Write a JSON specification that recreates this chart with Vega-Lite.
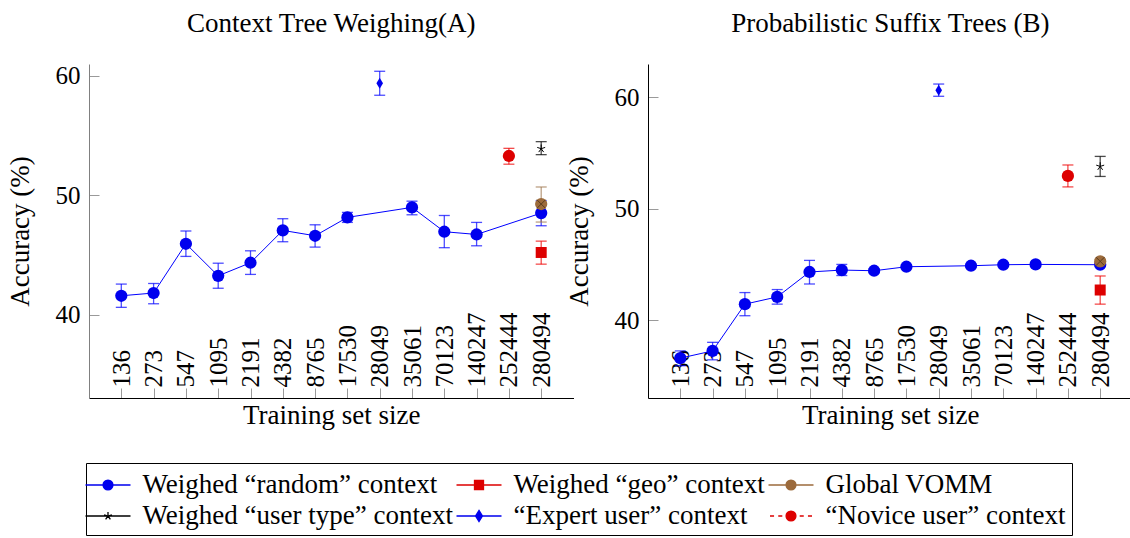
{
  "$schema": "https://vega.github.io/schema/vega-lite/v6.json",
  "padding": {"left": 6, "top": 9, "right": 0, "bottom": 0},
  "bounds": "flush",
  "spacing": 74,
  "config": {
    "font": "Liberation Serif",
    "view": {"stroke": null},
    "title": {"font": "Liberation Serif", "fontSize": 27, "fontWeight": "normal", "color": "black"},
    "axis": {"labelFont": "Liberation Serif", "titleFont": "Liberation Serif", "labelColor": "black", "titleColor": "black", "grid": false}
  },
  "datasets": {
    "d": [
      {"p": "A", "s": "136", "k": "random", "v": 41.57, "lo": 40.6, "hi": 42.55},
      {"p": "A", "s": "273", "k": "random", "v": 41.8, "lo": 40.9, "hi": 42.6},
      {"p": "A", "s": "547", "k": "random", "v": 45.93, "lo": 44.87, "hi": 47.0},
      {"p": "A", "s": "1095", "k": "random", "v": 43.24, "lo": 42.2, "hi": 44.3},
      {"p": "A", "s": "2191", "k": "random", "v": 44.34, "lo": 43.36, "hi": 45.34},
      {"p": "A", "s": "4382", "k": "random", "v": 47.05, "lo": 46.1, "hi": 48.03},
      {"p": "A", "s": "8765", "k": "random", "v": 46.6, "lo": 45.65, "hi": 47.52},
      {"p": "A", "s": "17530", "k": "random", "v": 48.14, "lo": 47.72, "hi": 48.56},
      {"p": "A", "s": "35061", "k": "random", "v": 48.98, "lo": 48.36, "hi": 49.5},
      {"p": "A", "s": "70123", "k": "random", "v": 46.94, "lo": 45.6, "hi": 48.3},
      {"p": "A", "s": "140247", "k": "random", "v": 46.71, "lo": 45.76, "hi": 47.72},
      {"p": "A", "s": "280494", "k": "random", "v": 48.5, "lo": 47.44, "hi": 49.54},
      {"p": "A", "s": "280494", "k": "geo", "v": 45.2, "lo": 44.22, "hi": 46.15},
      {"p": "A", "s": "280494", "k": "vomm", "v": 49.26, "lo": 47.75, "hi": 50.69},
      {"p": "A", "s": "280494", "k": "usertype", "v": 53.9, "lo": 53.4, "hi": 54.49},
      {"p": "A", "s": "28049", "k": "expert", "v": 59.38, "lo": 58.38, "hi": 60.39},
      {"p": "A", "s": "252444", "k": "novice", "v": 53.29, "lo": 52.6, "hi": 53.93},
      {"p": "B", "s": "136", "k": "random", "v": 36.58, "lo": 35.9, "hi": 37.23},
      {"p": "B", "s": "273", "k": "random", "v": 37.23, "lo": 36.43, "hi": 38.0},
      {"p": "B", "s": "547", "k": "random", "v": 41.43, "lo": 40.39, "hi": 42.47},
      {"p": "B", "s": "1095", "k": "random", "v": 42.08, "lo": 41.43, "hi": 42.74},
      {"p": "B", "s": "2191", "k": "random", "v": 44.32, "lo": 43.24, "hi": 45.36},
      {"p": "B", "s": "4382", "k": "random", "v": 44.49, "lo": 44.0, "hi": 45.0},
      {"p": "B", "s": "8765", "k": "random", "v": 44.43, "lo": 44.25, "hi": 44.6},
      {"p": "B", "s": "17530", "k": "random", "v": 44.79, "lo": 44.65, "hi": 44.93},
      {"p": "B", "s": "35061", "k": "random", "v": 44.88, "lo": 44.75, "hi": 45.0},
      {"p": "B", "s": "70123", "k": "random", "v": 44.97, "lo": 44.85, "hi": 45.1},
      {"p": "B", "s": "140247", "k": "random", "v": 45.0, "lo": 44.88, "hi": 45.12},
      {"p": "B", "s": "280494", "k": "random", "v": 44.97, "lo": 44.85, "hi": 45.1},
      {"p": "B", "s": "280494", "k": "geo", "v": 42.7, "lo": 41.43, "hi": 43.96},
      {"p": "B", "s": "280494", "k": "vomm", "v": 45.27, "lo": 45.1, "hi": 45.45},
      {"p": "B", "s": "280494", "k": "usertype", "v": 53.8, "lo": 52.9, "hi": 54.7},
      {"p": "B", "s": "28049", "k": "expert", "v": 60.65, "lo": 60.1, "hi": 61.2},
      {"p": "B", "s": "252444", "k": "novice", "v": 52.95, "lo": 51.96, "hi": 53.93}
    ]
  },
  "hconcat": [
    {
      "width": 484.5,
      "height": 334,
      "title": {"text": "Context Tree Weighing(A)", "frame": "group", "offset": 26},
      "data": {"name": "d"},
      "transform": [{"filter": "datum.p == 'A'"}],
      "encoding": {
        "x": {
          "field": "s", "type": "ordinal", "title": "Training set size",
          "scale": {"type": "point", "padding": 1, "domain": ["136", "273", "547", "1095", "2191", "4382", "8765", "17530", "28049", "35061", "70123", "140247", "252444", "280494"]},
          "axis": {"labelAngle": 270, "labelAlign": "left", "labelBaseline": "middle", "labelFontSize": 25, "labelPadding": -1, "tickSize": -10, "tickColor": "#9a9a9a", "domainColor": "black", "labelOverlap": false, "labelBound": false, "labelFlush": false, "titleFontSize": 27, "titleFontWeight": "normal", "titlePadding": 4}
        }
      },
      "layer": [
        {
          "mark": {"type": "rule", "strokeWidth": 1.3, "opacity": 0.7},
          "encoding": {
            "y": {"field": "lo", "type": "quantitative", "title": "Accuracy (%)", "scale": {"domain": [33, 61], "nice": false, "zero": false}, "axis": {"values": [40, 50, 60], "tickSize": -10, "tickColor": "#9a9a9a", "domainColor": "#808080", "labelFontSize": 25, "labelPadding": 19, "titleFontSize": 27, "titleFontWeight": "normal", "titlePadding": 21}},
            "y2": {"field": "hi"},
            "color": {"condition": [{"test": "datum.k == 'geo' || datum.k == 'novice'", "value": "#ee0000"}, {"test": "datum.k == 'vomm'", "value": "#a07850"}, {"test": "datum.k == 'usertype'", "value": "#000000"}], "value": "#0000ff"}
          }
        },
        {
          "mark": {"type": "tick", "thickness": 1.3, "size": 11, "opacity": 0.7, "orient": "horizontal"},
          "encoding": {
            "y": {"field": "lo", "type": "quantitative", "title": "Accuracy (%)"},
            "color": {"condition": [{"test": "datum.k == 'geo' || datum.k == 'novice'", "value": "#ee0000"}, {"test": "datum.k == 'vomm'", "value": "#a07850"}, {"test": "datum.k == 'usertype'", "value": "#000000"}], "value": "#0000ff"}
          }
        },
        {
          "mark": {"type": "tick", "thickness": 1.3, "size": 11, "opacity": 0.7, "orient": "horizontal"},
          "encoding": {
            "y": {"field": "hi", "type": "quantitative", "title": "Accuracy (%)"},
            "color": {"condition": [{"test": "datum.k == 'geo' || datum.k == 'novice'", "value": "#ee0000"}, {"test": "datum.k == 'vomm'", "value": "#a07850"}, {"test": "datum.k == 'usertype'", "value": "#000000"}], "value": "#0000ff"}
          }
        },
        {
          "transform": [{"filter": "datum.k == 'random'"}],
          "mark": {"type": "line", "color": "#0000ff", "strokeWidth": 1},
          "encoding": {"y": {"field": "v", "type": "quantitative", "title": "Accuracy (%)"}}
        },
        {
          "transform": [{"filter": "datum.k == 'random' || datum.k == 'vomm' || datum.k == 'novice'"}],
          "mark": {"type": "point", "filled": true, "opacity": 1, "size": 150, "shape": "circle"},
          "encoding": {
            "y": {"field": "v", "type": "quantitative", "title": "Accuracy (%)"},
            "color": {"condition": [{"test": "datum.k == 'novice'", "value": "#dd0000"}, {"test": "datum.k == 'vomm'", "value": "#9c6b3c"}], "value": "#0000ee"}
          }
        },
        {
          "transform": [{"filter": "datum.k == 'geo'"}],
          "mark": {"type": "point", "filled": true, "opacity": 1, "size": 121, "shape": "square", "color": "#dd0000"},
          "encoding": {"y": {"field": "v", "type": "quantitative", "title": "Accuracy (%)"}}
        },
        {
          "transform": [{"filter": "datum.k == 'expert'"}],
          "mark": {"type": "point", "filled": true, "opacity": 1, "size": 121, "shape": "M0,-1L0.6,0L0,1L-0.6,0Z", "color": "#0000ee"},
          "encoding": {"y": {"field": "v", "type": "quantitative", "title": "Accuracy (%)"}}
        },
        {
          "transform": [{"filter": "datum.k == 'usertype'"}],
          "mark": {"type": "point", "filled": false, "opacity": 1, "size": 70, "stroke": "black", "strokeWidth": 1, "shape": "M0,0L0,-1M0,0L0.95,-0.31M0,0L0.59,0.81M0,0L-0.59,0.81M0,0L-0.95,-0.31"},
          "encoding": {"y": {"field": "v", "type": "quantitative", "title": "Accuracy (%)"}}
        },
        {
          "transform": [{"filter": "datum.k == 'vomm'"}],
          "mark": {"type": "point", "filled": false, "opacity": 0.8, "size": 150, "stroke": "#4a3018", "strokeWidth": 1, "shape": "M-0.7,-0.7L0.7,0.7M-0.7,0.7L0.7,-0.7"},
          "encoding": {"y": {"field": "v", "type": "quantitative", "title": "Accuracy (%)"}}
        },
        {
          "transform": [{"filter": "datum.k == 'none'"}],
          "mark": {"type": "point", "opacity": 1, "strokeWidth": 1.3},
          "encoding": {
            "y": {"field": "v", "type": "quantitative", "title": "Accuracy (%)"},
            "fill": {
              "field": "k", "type": "nominal",
              "scale": {"domain": ["random", "geo", "vomm", "usertype", "expert", "novice"], "range": ["#0000ee", "#dd0000", "#9c6b3c", "transparent", "#0000ee", "#dd0000"]},
              "legend": {
                "orient": "none", "legendX": -3, "legendY": 399, "columns": 3, "direction": "horizontal", "title": null,
                "labelFont": "Liberation Serif", "labelFontSize": 27, "labelColor": "black", "labelLimit": 600,
                "symbolSize": 900, "symbolStrokeWidth": 1.3, "symbolOpacity": 1, "labelOffset": 18.5, "columnPadding": 0, "rowPadding": 2,
                "strokeColor": "black", "padding": 6,
                "labelExpr": "{'random':'Weighed “random” context','geo':'Weighed “geo” context','vomm':'Global VOMM','usertype':'Weighed “user type” context','expert':'“Expert user” context','novice':'“Novice user” context'}[datum.value]"
              }
            },
            "stroke": {
              "field": "k", "type": "nominal",
              "scale": {"domain": ["random", "geo", "vomm", "usertype", "expert", "novice"], "range": ["#0000ee", "#dd0000", "#9c6b3c", "#000000", "#0000ee", "#dd0000"]},
              "legend": {
                "orient": "none", "legendX": -3, "legendY": 399, "columns": 3, "direction": "horizontal", "title": null,
                "labelFont": "Liberation Serif", "labelFontSize": 27, "labelColor": "black", "labelLimit": 600,
                "symbolSize": 900, "symbolStrokeWidth": 1.3, "symbolOpacity": 1, "labelOffset": 18.5, "columnPadding": 0, "rowPadding": 2,
                "strokeColor": "black", "padding": 6,
                "labelExpr": "{'random':'Weighed “random” context','geo':'Weighed “geo” context','vomm':'Global VOMM','usertype':'Weighed “user type” context','expert':'“Expert user” context','novice':'“Novice user” context'}[datum.value]"
              }
            },
            "shape": {
              "field": "k", "type": "nominal",
              "scale": {"domain": ["random", "geo", "vomm", "usertype", "expert", "novice"], "range": [
                "M-1.5,0L1.5,0M0.33,0A0.33,0.33,0,1,1,-0.33,0A0.33,0.33,0,1,1,0.33,0Z",
                "M-1.5,0L1.5,0M-0.3,-0.3L0.3,-0.3L0.3,0.3L-0.3,0.3Z",
                "M-1.5,0L1.5,0M0.33,0A0.33,0.33,0,1,1,-0.33,0A0.33,0.33,0,1,1,0.33,0Z",
                "M-1.5,0L1.5,0M0,0L0,-0.27M0,0L0.26,-0.08M0,0L0.16,0.22M0,0L-0.16,0.22M0,0L-0.26,-0.08",
                "M-1.5,0L1.5,0M0,-0.37L0.23,0L0,0.37L-0.23,0Z",
                "M-1.4,0L-1.13,0M-0.85,0L-0.58,0M0.58,0L0.85,0M1.13,0L1.4,0M0.33,0A0.33,0.33,0,1,1,-0.33,0A0.33,0.33,0,1,1,0.33,0Z"
              ]},
              "legend": {
                "orient": "none", "legendX": -3, "legendY": 399, "columns": 3, "direction": "horizontal", "title": null,
                "labelFont": "Liberation Serif", "labelFontSize": 27, "labelColor": "black", "labelLimit": 600,
                "symbolSize": 900, "symbolStrokeWidth": 1.3, "symbolOpacity": 1, "labelOffset": 18.5, "columnPadding": 0, "rowPadding": 2,
                "strokeColor": "black", "padding": 6,
                "labelExpr": "{'random':'Weighed “random” context','geo':'Weighed “geo” context','vomm':'Global VOMM','usertype':'Weighed “user type” context','expert':'“Expert user” context','novice':'“Novice user” context'}[datum.value]"
              }
            }
          }
        }
      ]
    },
    {
      "width": 484.5,
      "height": 334,
      "title": {"text": "Probabilistic Suffix Trees (B)", "frame": "group", "offset": 26},
      "data": {"name": "d"},
      "transform": [{"filter": "datum.p == 'B'"}],
      "encoding": {
        "x": {
          "field": "s", "type": "ordinal", "title": "Training set size",
          "scale": {"type": "point", "padding": 1, "domain": ["136", "273", "547", "1095", "2191", "4382", "8765", "17530", "28049", "35061", "70123", "140247", "252444", "280494"]},
          "axis": {"labelAngle": 270, "labelAlign": "left", "labelBaseline": "middle", "labelFontSize": 25, "labelPadding": -1, "tickSize": -10, "tickColor": "#9a9a9a", "domainColor": "black", "labelOverlap": false, "labelBound": false, "labelFlush": false, "titleFontSize": 27, "titleFontWeight": "normal", "titlePadding": 4}
        }
      },
      "layer": [
        {
          "mark": {"type": "rule", "strokeWidth": 1.3, "opacity": 0.7},
          "encoding": {
            "y": {"field": "lo", "type": "quantitative", "title": "Accuracy (%)", "scale": {"domain": [33, 63], "nice": false, "zero": false}, "axis": {"values": [40, 50, 60], "tickSize": -10, "tickColor": "#9a9a9a", "domainColor": "black", "labelFontSize": 25, "labelPadding": 19, "titleFontSize": 27, "titleFontWeight": "normal", "titlePadding": 21}},
            "y2": {"field": "hi"},
            "color": {"condition": [{"test": "datum.k == 'geo' || datum.k == 'novice'", "value": "#ee0000"}, {"test": "datum.k == 'vomm'", "value": "#a07850"}, {"test": "datum.k == 'usertype'", "value": "#000000"}], "value": "#0000ff"}
          }
        },
        {
          "mark": {"type": "tick", "thickness": 1.3, "size": 11, "opacity": 0.7, "orient": "horizontal"},
          "encoding": {
            "y": {"field": "lo", "type": "quantitative", "title": "Accuracy (%)"},
            "color": {"condition": [{"test": "datum.k == 'geo' || datum.k == 'novice'", "value": "#ee0000"}, {"test": "datum.k == 'vomm'", "value": "#a07850"}, {"test": "datum.k == 'usertype'", "value": "#000000"}], "value": "#0000ff"}
          }
        },
        {
          "mark": {"type": "tick", "thickness": 1.3, "size": 11, "opacity": 0.7, "orient": "horizontal"},
          "encoding": {
            "y": {"field": "hi", "type": "quantitative", "title": "Accuracy (%)"},
            "color": {"condition": [{"test": "datum.k == 'geo' || datum.k == 'novice'", "value": "#ee0000"}, {"test": "datum.k == 'vomm'", "value": "#a07850"}, {"test": "datum.k == 'usertype'", "value": "#000000"}], "value": "#0000ff"}
          }
        },
        {
          "transform": [{"filter": "datum.k == 'random'"}],
          "mark": {"type": "line", "color": "#0000ff", "strokeWidth": 1},
          "encoding": {"y": {"field": "v", "type": "quantitative", "title": "Accuracy (%)"}}
        },
        {
          "transform": [{"filter": "datum.k == 'random' || datum.k == 'vomm' || datum.k == 'novice'"}],
          "mark": {"type": "point", "filled": true, "opacity": 1, "size": 150, "shape": "circle"},
          "encoding": {
            "y": {"field": "v", "type": "quantitative", "title": "Accuracy (%)"},
            "color": {"condition": [{"test": "datum.k == 'novice'", "value": "#dd0000"}, {"test": "datum.k == 'vomm'", "value": "#9c6b3c"}], "value": "#0000ee"}
          }
        },
        {
          "transform": [{"filter": "datum.k == 'geo'"}],
          "mark": {"type": "point", "filled": true, "opacity": 1, "size": 121, "shape": "square", "color": "#dd0000"},
          "encoding": {"y": {"field": "v", "type": "quantitative", "title": "Accuracy (%)"}}
        },
        {
          "transform": [{"filter": "datum.k == 'expert'"}],
          "mark": {"type": "point", "filled": true, "opacity": 1, "size": 121, "shape": "M0,-1L0.6,0L0,1L-0.6,0Z", "color": "#0000ee"},
          "encoding": {"y": {"field": "v", "type": "quantitative", "title": "Accuracy (%)"}}
        },
        {
          "transform": [{"filter": "datum.k == 'usertype'"}],
          "mark": {"type": "point", "filled": false, "opacity": 1, "size": 70, "stroke": "black", "strokeWidth": 1, "shape": "M0,0L0,-1M0,0L0.95,-0.31M0,0L0.59,0.81M0,0L-0.59,0.81M0,0L-0.95,-0.31"},
          "encoding": {"y": {"field": "v", "type": "quantitative", "title": "Accuracy (%)"}}
        },
        {
          "transform": [{"filter": "datum.k == 'vomm'"}],
          "mark": {"type": "point", "filled": false, "opacity": 0.8, "size": 150, "stroke": "#4a3018", "strokeWidth": 1, "shape": "M-0.7,-0.7L0.7,0.7M-0.7,0.7L0.7,-0.7"},
          "encoding": {"y": {"field": "v", "type": "quantitative", "title": "Accuracy (%)"}}
        }
      ]
    }
  ]
}
